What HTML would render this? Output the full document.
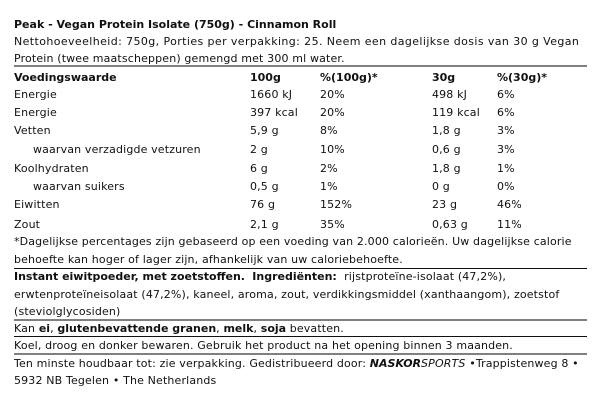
<!DOCTYPE html>
<html><head><meta charset="utf-8"><style>
body{margin:0;background:#fff;width:600px;height:402px;position:relative;overflow:hidden;font-family:"DejaVu Sans",Verdana,sans-serif;font-size:11px;color:#111;letter-spacing:0.15px}
.t{position:absolute;white-space:nowrap;line-height:14px}
.b,b{font-weight:bold;letter-spacing:0}
.l{position:absolute;left:14px;width:573px}
.g{height:2px;background:#808080}
.k{height:1px;background:#111}
</style></head><body>
<div class="t b" style="left:14px;top:18px">Peak - Vegan Protein Isolate (750g) - Cinnamon Roll</div>
<div class="t" style="left:14px;top:35px;letter-spacing:0.4px">Nettohoeveelheid: 750g, Porties per verpakking: 25. Neem een dagelijkse dosis van 30 g Vegan</div>
<div class="t" style="left:14px;top:52px">Protein (twee maatscheppen) gemengd met 300 ml water.</div>
<div class="l g" style="top:65px"></div>

<div class="t b" style="left:14px;top:71px">Voedingswaarde</div><div class="t b" style="left:250px;top:71px">100g</div><div class="t b" style="left:320px;top:71px">%(100g)*</div><div class="t b" style="left:432px;top:71px">30g</div><div class="t b" style="left:497px;top:71px">%(30g)*</div>

<div class="t" style="left:14px;top:88px">Energie</div><div class="t" style="left:250px;top:88px">1660 kJ</div><div class="t" style="left:320px;top:88px">20%</div><div class="t" style="left:432px;top:88px">498 kJ</div><div class="t" style="left:497px;top:88px">6%</div>
<div class="t" style="left:14px;top:106px">Energie</div><div class="t" style="left:250px;top:106px">397 kcal</div><div class="t" style="left:320px;top:106px">20%</div><div class="t" style="left:432px;top:106px">119 kcal</div><div class="t" style="left:497px;top:106px">6%</div>
<div class="t" style="left:14px;top:124px">Vetten</div><div class="t" style="left:250px;top:124px">5,9 g</div><div class="t" style="left:320px;top:124px">8%</div><div class="t" style="left:432px;top:124px">1,8 g</div><div class="t" style="left:497px;top:124px">3%</div>
<div class="t" style="left:33px;top:143px">waarvan verzadigde vetzuren</div><div class="t" style="left:250px;top:143px">2 g</div><div class="t" style="left:320px;top:143px">10%</div><div class="t" style="left:432px;top:143px">0,6 g</div><div class="t" style="left:497px;top:143px">3%</div>
<div class="t" style="left:14px;top:162px">Koolhydraten</div><div class="t" style="left:250px;top:162px">6 g</div><div class="t" style="left:320px;top:162px">2%</div><div class="t" style="left:432px;top:162px">1,8 g</div><div class="t" style="left:497px;top:162px">1%</div>
<div class="t" style="left:33px;top:180px">waarvan suikers</div><div class="t" style="left:250px;top:180px">0,5 g</div><div class="t" style="left:320px;top:180px">1%</div><div class="t" style="left:432px;top:180px">0 g</div><div class="t" style="left:497px;top:180px">0%</div>
<div class="t" style="left:14px;top:198px">Eiwitten</div><div class="t" style="left:250px;top:198px">76 g</div><div class="t" style="left:320px;top:198px">152%</div><div class="t" style="left:432px;top:198px">23 g</div><div class="t" style="left:497px;top:198px">46%</div>
<div class="t" style="left:14px;top:218px">Zout</div><div class="t" style="left:250px;top:218px">2,1 g</div><div class="t" style="left:320px;top:218px">35%</div><div class="t" style="left:432px;top:218px">0,63 g</div><div class="t" style="left:497px;top:218px">11%</div>

<div class="t" style="left:14px;top:235px">*Dagelijkse percentages zijn gebaseerd op een voeding van 2.000 calorieën. Uw dagelijkse calorie</div>
<div class="t" style="left:14px;top:253px">behoefte kan hoger of lager zijn, afhankelijk van uw caloriebehoefte.</div>
<div class="l k" style="top:268px"></div>
<div class="t" style="left:14px;top:270px"><span class="b">Instant eiwitpoeder, met zoetstoffen.</span>&nbsp; <span class="b">Ingrediënten:</span>&nbsp; rijstproteïne-isolaat (47,2%),</div>
<div class="t" style="left:14px;top:288px">erwtenproteïneisolaat (47,2%), kaneel, aroma, zout, verdikkingsmiddel (xanthaangom), zoetstof</div>
<div class="t" style="left:14px;top:305px">(steviolglycosiden)</div>
<div class="l g" style="top:319px"></div>
<div class="t" style="left:14px;top:322px">Kan <b>ei</b>, <b>glutenbevattende granen</b>, <b>melk</b>, <b>soja</b> bevatten.</div>
<div class="l k" style="top:336px"></div>
<div class="t" style="left:14px;top:339px">Koel, droog en donker bewaren. Gebruik het product na het opening binnen 3 maanden.</div>
<div class="l g" style="top:353px"></div>
<div class="t" style="left:14px;top:357px">Ten minste houdbaar tot: zie verpakking. Gedistribueerd door: <b><i>NASKOR</i></b><i>SPORTS</i> •Trappistenweg 8 •</div>
<div class="t" style="left:14px;top:374px">5932 NB Tegelen • The Netherlands</div>
</body></html>
